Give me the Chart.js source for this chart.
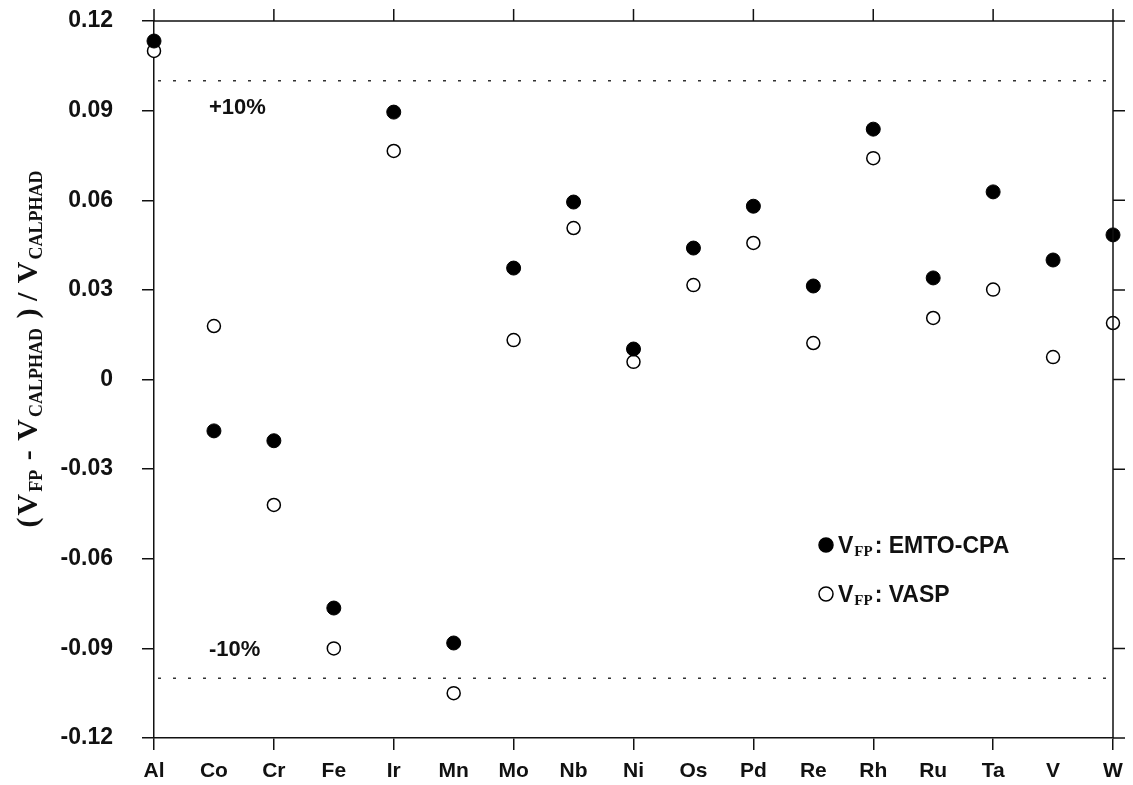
<!DOCTYPE html>
<html>
<head>
<meta charset="utf-8">
<script src="https://cdn.jsdelivr.net/npm/chart.js@4"></script>
<style>
  html, body { margin: 0; padding: 0; background: #fff; }
  #wrap { width: 1133px; height: 785px; }
</style>
</head>
<body>
<div id="wrap"><canvas id="c"></canvas></div>
<script>
const elements = ['Al', 'Co', 'Cr', 'Fe', 'Ir', 'Mn', 'Mo', 'Nb', 'Ni', 'Os', 'Pd', 'Re', 'Rh', 'Ru', 'Ta', 'V', 'W'];
const emtoCpa = [0.1133, -0.0172, -0.0205, -0.0765, 0.0895, -0.0882, 0.0373, 0.0594, 0.0102, 0.0440, 0.0580, 0.0313, 0.0838, 0.0340, 0.0628, 0.0400, 0.0484];
const vasp = [0.1100, 0.0179, -0.0420, -0.0900, 0.0765, -0.1050, 0.0132, 0.0507, 0.0059, 0.0316, 0.0457, 0.0122, 0.0741, 0.0206, 0.0301, 0.0075, 0.0189];
const yTicks = [-0.12, -0.09, -0.06, -0.03, 0, 0.03, 0.06, 0.09, 0.12];
const limits = [0.1, -0.1];
const limitLabels = ['+10%', '-10%'];

const sans = "'Liberation Sans', Arial, sans-serif";
const narrow = "'Liberation Sans Narrow', 'Liberation Sans', Arial, sans-serif";
const serif = "'Liberation Serif', 'Times New Roman', serif";
const ink = '#111';

// draws frame, mirrored ticks, +/-10% lines, legend and axis title
const extras = {
  id: 'extras',
  afterDraw(chart) {
    const ctx = chart.ctx;
    const a = chart.chartArea;
    const xs = chart.scales.x, ys = chart.scales.y;
    ctx.save();
    ctx.strokeStyle = ink;
    ctx.lineWidth = 1.5;
    ctx.beginPath();
    ctx.moveTo(a.left, a.top); ctx.lineTo(a.right, a.top);
    ctx.moveTo(a.right, a.top); ctx.lineTo(a.right, a.bottom);
    elements.forEach((e, i) => {
      if (i % 2) return;
      const x = xs.getPixelForValue(i);
      ctx.moveTo(x, a.top); ctx.lineTo(x, a.top - 12);
    });
    yTicks.forEach(v => {
      const y = ys.getPixelForValue(v);
      ctx.moveTo(a.right, y); ctx.lineTo(a.right + 12, y);
    });
    ctx.stroke();

    // dotted +/-10% lines
    ctx.setLineDash([3, 12]);
    ctx.strokeStyle = '#333';
    ctx.beginPath();
    limits.forEach(v => {
      const y = ys.getPixelForValue(v);
      ctx.moveTo(a.left + 4, y); ctx.lineTo(a.right - 6, y);
    });
    ctx.stroke();
    ctx.setLineDash([]);

    ctx.fillStyle = ink;
    ctx.font = 'bold 22px ' + sans;
    ctx.textBaseline = 'middle';
    ctx.textAlign = 'left';
    ctx.fillText(limitLabels[0], 209, ys.getPixelForValue(limits[0]) + 27);
    ctx.fillText(limitLabels[1], 209, ys.getPixelForValue(limits[1]) - 28);

    // legend
    const rows = [
      { y: 545, fill: '#000', name: ': EMTO-CPA' },
      { y: 594, fill: '#fff', name: ': VASP' }
    ];
    rows.forEach(r => {
      ctx.beginPath();
      ctx.arc(826, r.y, 7, 0, Math.PI * 2);
      ctx.fillStyle = r.fill;
      ctx.fill();
      ctx.strokeStyle = '#000';
      ctx.lineWidth = 1.5;
      ctx.stroke();
      ctx.fillStyle = ink;
      ctx.textBaseline = 'alphabetic';
      ctx.font = 'bold 23px ' + sans;
      ctx.fillText('V', 838, r.y + 8);
      let x = 838 + ctx.measureText('V').width + 1;
      ctx.font = 'bold 15px ' + serif;
      ctx.fillText('FP', x, r.y + 11);
      x += ctx.measureText('FP').width + 2;
      ctx.font = 'bold 23px ' + sans;
      ctx.fillText(r.name, x, r.y + 8);
    });

    // y-axis title, centred between y=165 and y=530
    const parts = [
      ['(', 0], ['V', 0], ['FP', 1], [' - ', 0], ['V', 0], ['CALPHAD', 1],
      [' ) / ', 0], ['V', 0], ['CALPHAD', 1]
    ];
    const fontOf = s => s ? 'bold 18px ' + serif : 'bold 30px ' + serif;
    const gap = 2;
    let total = 0;
    parts.forEach(p => { ctx.font = fontOf(p[1]); total += ctx.measureText(p[0]).width + gap; });
    ctx.translate(37, 348 + total / 2);
    ctx.rotate(-Math.PI / 2);
    ctx.textBaseline = 'alphabetic';
    let d = 0;
    parts.forEach(p => {
      ctx.font = fontOf(p[1]);
      ctx.fillText(p[0], d, p[1] ? 5 : 0);
      d += ctx.measureText(p[0]).width + gap;
    });
    ctx.restore();
  }
};

new Chart(document.getElementById('c'), {
  type: 'line',
  data: {
    labels: elements,
    datasets: [{
      label: 'V_FP : EMTO-CPA',
      data: emtoCpa,
      showLine: false,
      order: 0,
      pointRadius: 7,
      pointBackgroundColor: '#000',
      pointBorderColor: '#000',
      pointBorderWidth: 1
    }, {
      label: 'V_FP : VASP',
      data: vasp,
      showLine: false,
      order: 1,
      pointRadius: 6.5,
      pointBackgroundColor: '#fff',
      pointBorderColor: '#000',
      pointBorderWidth: 1.5
    }]
  },
  options: {
    responsive: true,
    maintainAspectRatio: false,
    animation: false,
    layout: { padding: { left: 0, top: 21, right: 20, bottom: 0 } },
    plugins: { legend: { display: false }, tooltip: { enabled: false } },
    scales: {
      x: {
        offset: false,
        afterFit: s => { s.height = 47; s.paddingLeft = 0; s.paddingRight = 0; },
        border: { color: ink, width: 1.5 },
        grid: {
          drawOnChartArea: false,
          tickLength: 12,
          lineWidth: 1.5,
          color: c => c.index % 2 === 0 ? ink : 'rgba(0,0,0,0)',
          tickColor: c => c.index % 2 === 0 ? ink : 'rgba(0,0,0,0)'
        },
        ticks: {
          autoSkip: false,
          maxRotation: 0,
          padding: 9,
          color: ink,
          font: { family: narrow, size: 21, weight: 'bold' }
        }
      },
      y: {
        min: -0.12,
        max: 0.12,
        afterFit: s => { s.width = 154; s.paddingTop = 0; s.paddingBottom = 0; },
        afterBuildTicks: s => { s.ticks = yTicks.map(v => ({ value: v })); },
        border: { color: ink, width: 1.5 },
        grid: { drawOnChartArea: false, tickLength: 12, lineWidth: 1.5, color: ink },
        ticks: {
          padding: 29,
          color: ink,
          font: { family: sans, size: 23, weight: 'bold' },
          callback: v => Math.abs(v) < 1e-9 ? '0' : v.toFixed(2)
        }
      }
    }
  },
  plugins: [extras]
});
</script>
</body>
</html>
